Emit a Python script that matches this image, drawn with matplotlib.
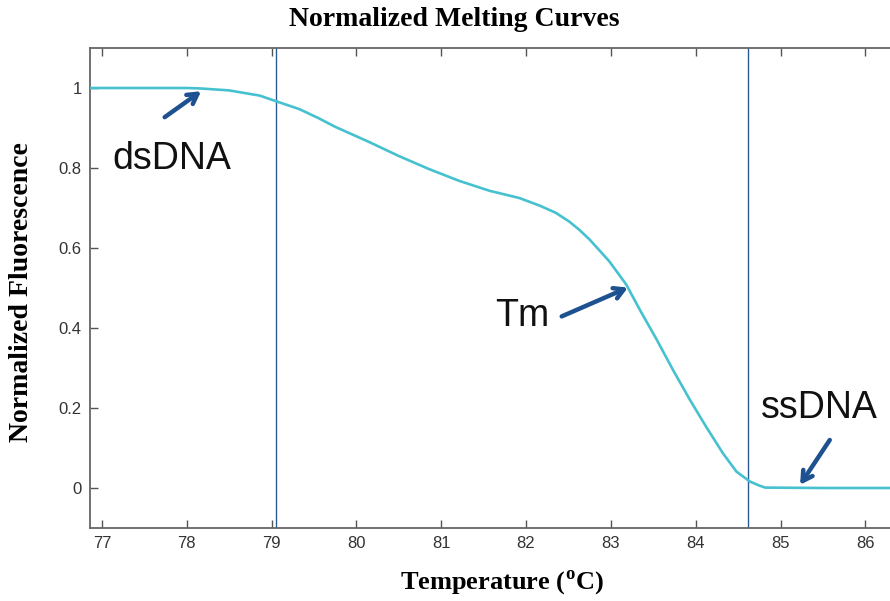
import matplotlib
matplotlib.use("Agg")
import matplotlib.pyplot as plt

# ---- data ----
temperature = [76.86, 77.5, 78.0, 78.15, 78.5, 78.86, 79.08, 79.33, 79.55, 79.75, 79.95,
               80.15, 80.5, 80.86, 81.21, 81.57, 81.92, 82.16, 82.35, 82.51, 82.63, 82.75,
               82.98, 83.18, 83.34, 83.54, 83.73, 83.93, 84.12, 84.32, 84.48, 84.64,
               84.75, 84.82, 85.5, 86.29]
fluorescence = [1.0, 1.0, 1.0, 0.999, 0.994, 0.981, 0.965, 0.947, 0.925, 0.903, 0.884,
                0.865, 0.830, 0.797, 0.768, 0.743, 0.725, 0.706, 0.688, 0.666, 0.645, 0.621,
                0.567, 0.509, 0.446, 0.371, 0.296, 0.221, 0.154, 0.087, 0.041, 0.016,
                0.006, 0.001, 0.0, 0.0]
vlines_x = [79.05, 84.62]
x_ticks = [77, 78, 79, 80, 81, 82, 83, 84, 85, 86]
y_ticks = [0, 0.2, 0.4, 0.6, 0.8, 1]
y_tick_labels = ["0", "0.2", "0.4", "0.6", "0.8", "1"]

annotations = [
    # label, text position, arrow tail, arrow tip
    ("dsDNA", (77.83, 0.822), (77.74, 0.927), (78.17, 0.992)),
    ("Tm", (81.95, 0.431), (82.42, 0.429), (83.20, 0.501)),
    ("ssDNA", (85.46, 0.20), (85.58, 0.120), (85.23, 0.008)),
]

plt.rcParams['mathtext.fontset'] = 'custom'
plt.rcParams['mathtext.bf'] = 'Liberation Serif:bold'
plt.rcParams['mathtext.rm'] = 'Liberation Serif:bold'

fig = plt.figure(figsize=(8.9, 6.01), dpi=100)
ax = fig.add_axes([90/890, 1-528/601, 1-90/890, (528-48)/601])

ax.plot(temperature, fluorescence, color='#45c1cf', lw=1.9, zorder=3,
        solid_joinstyle='round')
for xv in vlines_x:
    ax.axvline(xv, color='#2a5a94', lw=1.0, zorder=2)

ax.set_xlim(76.86, 86.29)
ax.set_ylim(-0.1, 1.1)
ax.set_xticks(x_ticks)
ax.set_xticklabels([str(t) for t in x_ticks])
ax.set_yticks(y_ticks)
ax.set_yticklabels(y_tick_labels)

ax.tick_params(direction='in', length=6, width=1, color='#555555',
               labelsize=12, labelcolor='#333333', top=True, right=False, pad=6)
for lab in ax.get_xticklabels() + ax.get_yticklabels():
    lab.set_family('Liberation Sans')
for side in ['left', 'bottom', 'top']:
    ax.spines[side].set_color('#666666')
    ax.spines[side].set_linewidth(1.3)
ax.spines['right'].set_visible(False)

for label, tpos, tail, tip in annotations:
    ax.text(tpos[0], tpos[1], label, fontsize=27, family='Liberation Sans',
            ha='center', va='center', color='#111111', zorder=4)
    ax.annotate('', xy=tip, xytext=tail,
                arrowprops=dict(arrowstyle='->,head_length=0.7,head_width=0.4',
                                lw=3.2, color='#1d5190', shrinkA=0, shrinkB=0),
                zorder=4)

fig.text(454/890, 1-20/601, 'Normalized Melting Curves', fontsize=20,
         family='Liberation Serif', weight='bold', ha='center', va='center')
fig.text(502/890, 1-583/601, r'Temperature ($^{\mathbf{o}}$C)', fontsize=19,
         family='Liberation Serif', weight='bold', ha='center', va='center')
fig.text(22/890, 1-292/601, 'Normalized Fluorescence', fontsize=20,
         family='Liberation Serif', weight='bold', ha='center', va='center',
         rotation=90)

fig.savefig('out.png', dpi=100, facecolor='white')
